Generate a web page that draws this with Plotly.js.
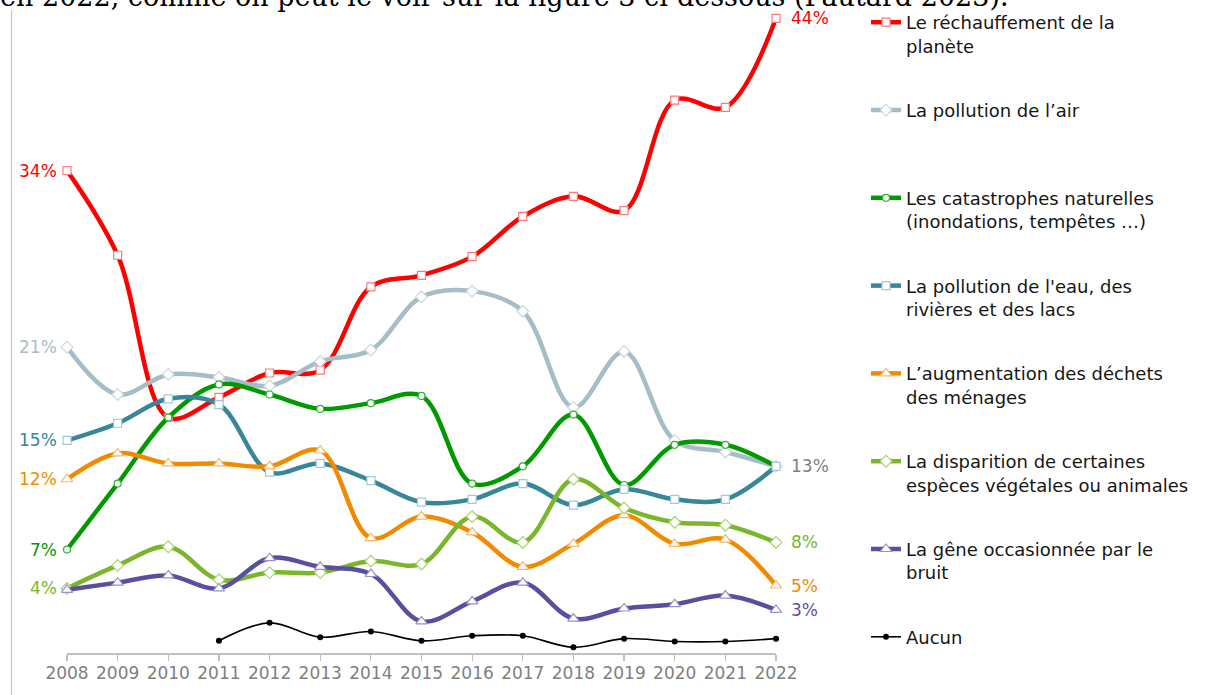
<!DOCTYPE html>
<html>
<head>
<meta charset="utf-8">
<script src="https://cdn.plot.ly/plotly-3.0.1.min.js"></script>
<style>
html,body{margin:0;padding:0;background:#fff;}
#chart{width:1205px;height:695px;}
</style>
</head>
<body>
<div id="chart"></div>
<script>
// ---- data ----
const years = [2008, 2009, 2010, 2011, 2012, 2013, 2014, 2015, 2016, 2017, 2018, 2019, 2020, 2021, 2022];
const yearLabels = ["2008","2009","2010","2011","2012","2013","2014","2015","2016","2017","2018","2019","2020","2021","2022"];

const seriesNames = [
  "Le réchauffement de la<br>planète",
  "La pollution de l’air<br> ",
  "Les catastrophes naturelles<br>(inondations, tempêtes …)",
  "La pollution de l'eau, des<br>rivières et des lacs",
  "L’augmentation des déchets<br>des ménages",
  "La disparition de certaines<br>espèces végétales ou animales",
  "La gêne occasionnée par le<br>bruit",
  "Aucun"
];

const rechauffement = [33.6, 27.7, 16.4, 17.8, 19.5, 19.7, 25.5, 26.3, 27.6, 30.4, 31.8, 30.8, 38.5, 38.0, 44.2];
const pollutionAir  = [21.3, 18.0, 19.4, 19.2, 18.6, 20.3, 21.1, 24.8, 25.2, 23.8, 17.1, 21.0, 14.8, 14.0, 13.0];
const catastrophes  = [7.2, 11.8, 16.4, 18.7, 18.0, 17.0, 17.4, 17.9, 11.8, 13.0, 16.6, 11.7, 14.5, 14.5, 13.0];
const pollutionEau  = [14.8, 16.0, 17.7, 17.3, 12.6, 13.2, 12.0, 10.5, 10.7, 11.8, 10.3, 11.4, 10.7, 10.7, 13.0];
const dechets       = [12.1, 13.9, 13.2, 13.2, 13.0, 14.1, 8.0, 9.5, 8.4, 6.0, 7.6, 9.6, 7.6, 7.9, 4.7];
const disparition   = [4.5, 6.1, 7.4, 5.1, 5.6, 5.6, 6.4, 6.2, 9.5, 7.7, 12.1, 10.1, 9.1, 8.9, 7.7];
const bruit         = [4.4, 4.9, 5.4, 4.5, 6.6, 6.0, 5.5, 2.2, 3.6, 4.9, 2.4, 3.1, 3.4, 4.0, 3.0];
const aucun         = [null, null, null, 0.85, 2.1, 1.1, 1.5, 0.85, 1.2, 1.2, 0.4, 1.0, 0.8, 0.8, 1.0];

const startLabels = ["34%", "21%", "7%", "15%", "12%", "4%", null, null];
const endLabels   = ["44%", null, null, "13%", "5%", "8%", "3%", null];

// ---- styles ----
const allSeries = [rechauffement, pollutionAir, catastrophes, pollutionEau, dechets, disparition, bruit, aucun];
const colors  = ["#FF0000", "#A6BCC6", "#009A00", "#37869C", "#F28A00", "#7AB62C", "#594F9F", "#000000"];
const outline = ["#FF7A7A", "#C9D7DE", "#2FB02F", "#A4C9D4", "#F7B766", "#A9D275", "#9A92C9", "#000000"];
const symbols = ["square", "diamond", "circle", "square", "triangle-up", "diamond", "triangle-up", "circle"];
const msizes  = [8, 9, 7, 8, 10, 9, 10, 6];
const startLabelColors = ["#FF0000", "#A6BCC6", "#009A00", "#37869C", "#F28A00", "#7AB62C", null, null];
const endLabelColors   = ["#FF0000", null, null, "#808080", "#F28A00", "#7AB62C", "#594F9F", null];

const FONT = "DejaVu Sans, Verdana, sans-serif";
const TOP_PX = 4, BOTTOM_PX = 653, PX_PER_UNIT = 14.36;

const traces = allSeries.map((s, i) => {
  const last = i === allSeries.length - 1;
  return {
    x: years,
    y: s,
    type: "scatter",
    mode: "lines+markers",
    name: seriesNames[i],
    legendgroup: "g" + i,
    cliponaxis: false,
    connectgaps: false,
    line: {color: colors[i], width: last ? 1.6 : 4.5, shape: "spline", smoothing: 1},
    marker: last
      ? {symbol: "circle", size: msizes[i], color: "#000000"}
      : {symbol: symbols[i], size: msizes[i], color: "#FFFFFF", line: {color: outline[i], width: 1.2}},
    hoverinfo: "x+y+name"
  };
});

const annotations = [];
allSeries.forEach((s, i) => {
  if (startLabels[i]) {
    annotations.push({
      x: years[0], y: s[0], xref: "x", yref: "y",
      text: startLabels[i], showarrow: false,
      xanchor: "right", yanchor: "middle", xshift: -8,
      font: {family: FONT, size: 17, color: startLabelColors[i]}
    });
  }
  if (endLabels[i]) {
    annotations.push({
      x: years[years.length - 1], y: s[s.length - 1], xref: "x", yref: "y",
      text: endLabels[i], showarrow: false,
      xanchor: "left", yanchor: "middle", xshift: 13,
      font: {family: FONT, size: 17, color: endLabelColors[i]}
    });
  }
});

const plotH = BOTTOM_PX - TOP_PX;
// cut-off line of document text at the top
annotations.push({
  xref: "paper", yref: "paper", x: -69 / 709, y: (BOTTOM_PX + 3) / plotH,
  xanchor: "left", yanchor: "middle", showarrow: false,
  text: "en 2022, comme on peut le voir sur la figure 3 ci-dessous (Pautard 2023).",
  font: {family: "DejaVu Serif, Liberation Serif, serif", size: 27, color: "#000000"}
});

const layout = {
  width: 1205,
  height: 695,
  paper_bgcolor: "#FFFFFF",
  plot_bgcolor: "#FFFFFF",
  margin: {l: 67, r: 429, t: TOP_PX, b: 695 - BOTTOM_PX, pad: 0},
  showlegend: true,
  legend: {
    xref: "container", yref: "paper",
    x: 866 / 1205, y: 1,
    xanchor: "left", yanchor: "top",
    valign: "top",
    tracegroupgap: 38,
    font: {family: FONT, size: 18, color: "#161616"},
    bgcolor: "rgba(0,0,0,0)",
    borderwidth: 0
  },
  xaxis: {
    range: [2008, 2022],
    tickvals: years,
    ticktext: yearLabels,
    showgrid: false,
    zeroline: false,
    showline: true,
    linecolor: "#C0C0C0",
    linewidth: 1.5,
    ticks: "outside",
    ticklen: 6,
    tickwidth: 1.2,
    tickcolor: "#C0C0C0",
    ticklabelstandoff: -2,
    tickfont: {family: FONT, size: 17, color: "#7F7F7F"},
    fixedrange: true
  },
  yaxis: {
    range: [0, plotH / PX_PER_UNIT],
    visible: false,
    showgrid: false,
    zeroline: false,
    fixedrange: true
  },
  shapes: [{
    type: "line", xref: "paper", yref: "paper",
    x0: (11.5 - 67) / 709, x1: (11.5 - 67) / 709,
    y0: (BOTTOM_PX - 700) / plotH, y1: (BOTTOM_PX - 10) / plotH,
    line: {color: "#C8C8C8", width: 1.2}
  }],
  annotations: annotations
};

Plotly.newPlot("chart", traces, layout, {displayModeBar: false, staticPlot: true});
</script>
</body>
</html>
